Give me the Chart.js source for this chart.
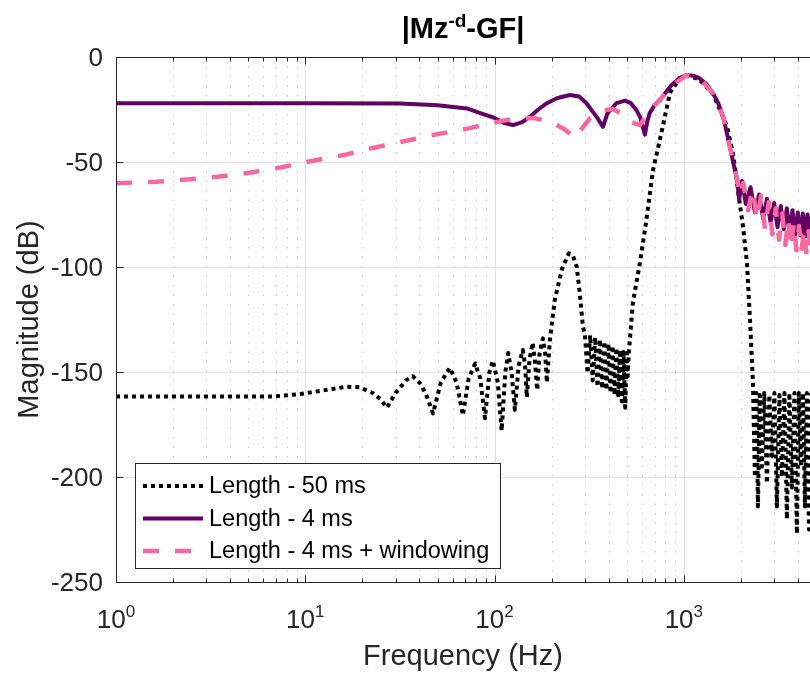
<!DOCTYPE html>
<html>
<head>
<meta charset="utf-8">
<script src="https://cdn.jsdelivr.net/npm/chart.js@4.4.0/dist/chart.umd.min.js"></script>
<style>
  html, body { margin: 0; padding: 0; background: #fff; }
  #wrap { width: 810px; height: 677px; }
</style>
</head>
<body>
<div id="wrap"><canvas id="chart" width="810" height="677"></canvas></div>
<script>
// --- Data ---
const freq50 = [1, 3, 6.7, 9.4, 13, 16.6, 19.4, 22.7, 25, 27, 30, 34, 37, 41, 44, 47.3, 52, 58, 63, 68,
  73, 79, 84, 89, 94, 98, 104, 109, 114, 118, 123, 128, 134, 141, 145, 148, 153, 159, 163, 168,
  173, 180, 185, 189, 196, 208, 227, 247, 260, 272, 283, 293, 300, 310, 320, 330, 340, 350, 360, 370,
  380, 390, 400, 410, 420, 430, 440, 450, 460, 470, 480, 490, 500, 505, 512, 538, 586, 631, 687, 766,
  845, 954, 1038, 1200, 1426, 1690, 1817, 1900, 1960, 2050, 2155, 2236, 2318, 2374, 2420, 2463, 2520, 2586, 2660, 2748,
  2830, 2920, 3010, 3103, 3200, 3298, 3400, 3504, 3610, 3724, 3840, 3958, 4050, 4155, 4260, 4362, 4470, 4580, 4700];
const mag50 = [-161.7, -161.7, -161.7, -160.5, -158.5, -157, -157.3, -160, -163, -167, -160, -154, -152, -156, -162, -169.7, -155, -148, -155, -170.6,
  -153, -146, -153, -172, -150, -144.6, -155, -178, -150, -141, -150, -168, -147, -139.5, -147, -162, -144, -136, -144, -158.6,
  -141, -134, -141, -155, -134.8, -115.7, -101, -93.5, -95, -100, -114, -128.5, -132, -150.6, -132.5, -154, -133.5, -157, -134.5, -158,
  -135.5, -158.6, -136.5, -160, -137.5, -161, -138.5, -162, -139.5, -164, -140.5, -167, -141, -152, -141, -117, -98, -79, -54, -35,
  -17, -10, -8.8, -10.5, -17.5, -33, -46, -58, -68, -80, -98, -125, -155, -200, -160, -214, -161, -195, -160, -203,
  -161, -190, -160, -214, -161, -200, -160, -220, -160, -205, -160, -227, -160, -195, -160, -214, -160, -225, -160];

const freq4 = [1, 10, 31.6, 50, 71.5, 84, 100, 113, 125, 140, 154, 170, 189, 215, 250, 280, 306, 330, 349, 374,
  395, 441, 489, 525, 561, 590, 605, 623, 640, 660, 700, 748, 800, 862, 950, 1038, 1120, 1213, 1320, 1426,
  1520, 1613, 1750, 1840, 1914, 1960, 2030, 2125, 2250, 2375, 2500, 2625, 2750, 2875, 3000, 3125, 3250, 3375, 3500, 3625,
  3750, 3875, 4000, 4125, 4250, 4375, 4500, 4625, 4750];
const mag4 = [-22, -22, -22.2, -23, -24.5, -26.7, -29, -31.5, -32.4, -31, -28.4, -25, -22, -19.5, -18.1, -18.8, -22, -26, -29, -33.3,
  -26.7, -22, -20.8, -22, -25.2, -29, -33, -37, -31, -26.7, -23, -20.5, -17, -13.3, -10, -8.6, -8.9, -10.2, -13, -17.3,
  -22, -28.4, -42.7, -52, -58.6, -68, -59, -70, -62, -74, -65.5, -77, -67.5, -79, -69.5, -81, -71, -82, -72, -83.5,
  -73, -84.5, -74, -85, -74.5, -85.5, -75, -86, -75.5];

const freq4w = [1, 1.63, 2.37, 3.45, 5.1, 7.5, 10.8, 16, 23, 33.7, 49.6, 73, 98, 125, 160, 200, 235, 266, 290, 320,
  370, 421, 470, 530, 586, 630, 700, 809, 900, 1038, 1213, 1426, 1613, 1750, 1914, 1990, 2060, 2185, 2310, 2435,
  2560, 2685, 2810, 2935, 3060, 3185, 3310, 3435, 3560, 3685, 3810, 3935, 4060, 4185, 4310, 4435, 4560, 4685];
const mag4w = [-60.1, -59.4, -58.3, -57, -55.1, -52.5, -49.5, -46.7, -43.2, -40, -36.8, -34, -31.3, -29.5, -29, -31, -34.5, -38.5, -34, -29,
  -25.5, -24.8, -27, -31, -32.5, -28, -23, -17, -12.5, -8.6, -10.2, -17.3, -28.4, -42.7, -58.6, -66, -60, -73, -63, -77.6,
  -66, -82, -69, -84.5, -72, -87, -74.5, -89.5, -77, -91, -79, -92, -80.5, -92.5, -82, -93, -83, -93];

const seriesLabels = ['Length - 50 ms', 'Length - 4 ms', 'Length - 4 ms + windowing'];
const yTicks = [0, -50, -100, -150, -200, -250];
const xDecades = [1, 10, 100, 1000];
const xExponents = ['0', '1', '2', '3'];
const titleParts = ['|Mz', '-d', '-GF|'];
const xTitle = 'Frequency (Hz)';
const yTitle = 'Magnitude (dB)';

const FONT = '"Liberation Sans", Arial, Helvetica, sans-serif';
const AXIS = '#262626';

function toPoints(xs, ys) {
    return xs.map((x, i) => ({ x: x, y: ys[i] }));
}

function line(ctx, x1, y1, x2, y2) {
    ctx.beginPath();
    ctx.moveTo(x1, y1);
    ctx.lineTo(x2, y2);
    ctx.stroke();
}

// minor positions 2..9 inside each decade that is on screen
function minorX(scale) {
    const out = [];
    xDecades.forEach(d => {
        for (let m = 2; m <= 9; m++) {
            if (d * m <= scale.max) out.push(d * m);
        }
    });
    return out;
}

// MATLAB-style axes: grid, box, inner ticks, labels, title and legend
const matlabAxes = {
    id: 'matlabAxes',
    beforeDatasetsDraw(chart) {
        const { ctx, chartArea: a, scales: { x, y } } = chart;
        ctx.save();
        ctx.lineWidth = 1;

        // dotted minor grid
        ctx.strokeStyle = '#c4c4c4';
        ctx.setLineDash([1.5, 8]);
        minorX(x).forEach(v => {
            const px = Math.round(x.getPixelForValue(v)) + 0.5;
            line(ctx, px, a.top, px, a.bottom);
        });

        // solid major grid
        ctx.setLineDash([]);
        ctx.strokeStyle = '#e0e0e0';
        xDecades.forEach(v => {
            const px = Math.round(x.getPixelForValue(v)) + 0.5;
            line(ctx, px, a.top, px, a.bottom);
        });
        yTicks.forEach(v => {
            const py = Math.round(y.getPixelForValue(v)) + 0.5;
            line(ctx, a.left, py, a.right, py);
        });
        ctx.restore();
    },
    afterDatasetsDraw(chart) {
        const { ctx, chartArea: a, scales: { x, y } } = chart;
        const L = Math.round(a.left) + 0.5, T = Math.round(a.top) + 0.5, B = Math.round(a.bottom) + 0.5;
        ctx.save();
        ctx.strokeStyle = AXIS;
        ctx.fillStyle = AXIS;
        ctx.lineWidth = 1;

        // box (right edge is off the page)
        line(ctx, L, T, a.right, T);
        line(ctx, L, B, a.right, B);
        line(ctx, L, T, L, B);

        // ticks
        xDecades.forEach(v => {
            const px = Math.round(x.getPixelForValue(v)) + 0.5;
            line(ctx, px, B, px, B - 7);
            line(ctx, px, T, px, T + 7);
        });
        minorX(x).forEach(v => {
            const px = Math.round(x.getPixelForValue(v)) + 0.5;
            line(ctx, px, B, px, B - 4);
            line(ctx, px, T, px, T + 4);
        });
        yTicks.forEach(v => {
            const py = Math.round(y.getPixelForValue(v)) + 0.5;
            line(ctx, L, py, L + 7, py);
        });

        // y tick labels
        ctx.font = '26px ' + FONT;
        ctx.textAlign = 'right';
        ctx.textBaseline = 'alphabetic';
        yTicks.forEach(v => {
            ctx.fillText(String(v), a.left - 13, y.getPixelForValue(v) + 9);
        });

        // x tick labels 10^n
        ctx.textAlign = 'left';
        xDecades.forEach((v, i) => {
            ctx.font = '26px ' + FONT;
            const wBase = ctx.measureText('10').width;
            ctx.font = '17px ' + FONT;
            const wExp = ctx.measureText(xExponents[i]).width;
            const start = x.getPixelForValue(v) - (wBase + wExp) / 2;
            ctx.font = '26px ' + FONT;
            ctx.fillText('10', start, 628);
            ctx.font = '17px ' + FONT;
            ctx.fillText(xExponents[i], start + wBase, 617);
        });

        // axis titles
        const cx = (a.left + a.right) / 2;
        ctx.font = '29px ' + FONT;
        ctx.textAlign = 'center';
        ctx.textBaseline = 'middle';
        ctx.fillText(xTitle, cx, 657);
        ctx.save();
        ctx.translate(30, (a.top + a.bottom) / 2);
        ctx.rotate(-Math.PI / 2);
        ctx.fillText(yTitle, 0, 0);
        ctx.restore();

        // title with superscript
        ctx.fillStyle = '#000';
        ctx.textAlign = 'left';
        ctx.textBaseline = 'alphabetic';
        const big = 'bold 29px ' + FONT, small = 'bold 19px ' + FONT;
        ctx.font = big;
        const w1 = ctx.measureText(titleParts[0]).width;
        const w3 = ctx.measureText(titleParts[2]).width;
        ctx.font = small;
        const w2 = ctx.measureText(titleParts[1]).width;
        let tx = cx - (w1 + w2 + w3) / 2;
        ctx.font = big;
        ctx.fillText(titleParts[0], tx, 38);
        tx += w1;
        ctx.font = small;
        ctx.fillText(titleParts[1], tx, 27);
        tx += w2;
        ctx.font = big;
        ctx.fillText(titleParts[2], tx, 38);

        // legend box
        const box = { x: 135.5, y: 463.5, w: 365, h: 105 };
        ctx.fillStyle = '#fff';
        ctx.fillRect(box.x, box.y, box.w, box.h);
        ctx.strokeStyle = AXIS;
        ctx.lineWidth = 1;
        ctx.strokeRect(box.x, box.y, box.w, box.h);
        ctx.font = '23.5px ' + FONT;
        ctx.textBaseline = 'middle';
        chart.data.datasets.forEach((ds, i) => {
            const ry = 486 + i * 32.5;
            ctx.save();
            ctx.strokeStyle = ds.borderColor;
            ctx.lineWidth = ds.borderWidth;
            ctx.lineCap = 'butt';
            ctx.setLineDash(ds.borderDash || []);
            line(ctx, 143, ry, 203, ry);
            ctx.restore();
            ctx.fillStyle = '#000';
            ctx.fillText(ds.label, 209, ry + 1);
        });
        ctx.restore();
    }
};

new Chart(document.getElementById('chart'), {
    type: 'line',
    data: {
        datasets: [
            {
                label: seriesLabels[0],
                data: toPoints(freq50, mag50),
                borderColor: '#000000',
                borderWidth: 4,
                borderDash: [4, 4],
                order: 3
            },
            {
                label: seriesLabels[1],
                data: toPoints(freq4, mag4),
                borderColor: '#620064',
                borderWidth: 4,
                order: 2
            },
            {
                label: seriesLabels[2],
                data: toPoints(freq4w, mag4w),
                borderColor: '#F7699F',
                borderWidth: 4.5,
                borderDash: [16, 16],
                order: 1
            }
        ]
    },
    options: {
        responsive: false,
        animation: false,
        devicePixelRatio: 1,
        layout: { padding: { left: 116, top: 57, right: 0, bottom: 95 } },
        elements: {
            point: { radius: 0, hoverRadius: 0 },
            line: { tension: 0, fill: false, borderCapStyle: 'butt', borderJoinStyle: 'round' }
        },
        scales: {
            x: { type: 'logarithmic', min: 1, max: 4640, display: false },
            y: { type: 'linear', min: -250, max: 0, display: false }
        },
        plugins: {
            legend: { display: false },
            title: { display: false },
            tooltip: { enabled: false }
        },
        events: []
    },
    plugins: [matlabAxes]
});
</script>
</body>
</html>
